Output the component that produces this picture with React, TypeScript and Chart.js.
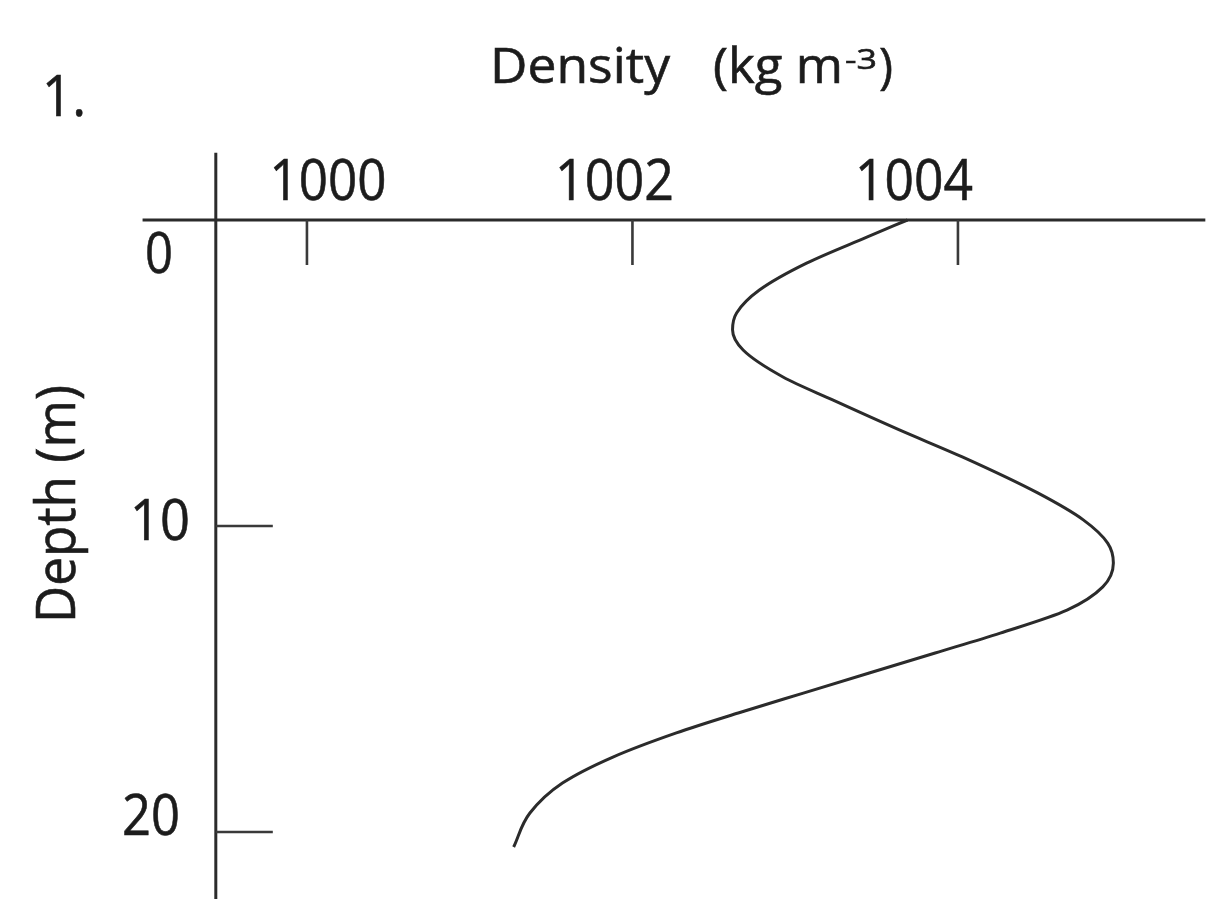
import React, { useEffect, useRef } from "react";
import { Chart, registerables } from "chart.js";

Chart.register(...registerables);

// ---- data ----
const DENSITY = [
  1003.69, 1003.44, 1003.07, 1002.78, 1002.64, 1002.615, 1002.68, 1002.925, 1003.23,
  1003.64, 1004.03, 1004.49, 1004.77, 1004.92, 1004.955, 1004.89, 1004.67, 1004.26,
  1003.86, 1003.05, 1002.65, 1002.27, 1001.88, 1001.57, 1001.37, 1001.27,
];
const DEPTH = [
  0, 0.56, 1.41, 2.29, 3.04, 3.59, 4.25, 5.13, 5.88,
  6.86, 7.75, 8.92, 9.8, 10.56, 11.21, 11.99, 12.75, 13.5,
  14.15, 15.46, 16.11, 16.76, 17.55, 18.4, 19.38, 20.49,
];
const DENSITY_TICKS = [1000, 1002, 1004];
const DEPTH_TICKS = [0, 10, 20];
const X_TITLE = "Density";
const X_UNIT = "(kg m";
const X_UNIT_SUP = "-3";
const X_UNIT_END = ")";
const Y_TITLE = "Depth (m)";
const PANEL_LABEL = "1.";

// ---- style ----
const FONT = '"Open Sans", "DejaVu Sans", sans-serif';
const INK = "#1c1c1c";
const LINE = "#2b2b2b";

function drawFitted(
  ctx: CanvasRenderingContext2D,
  text: string,
  x: number,
  y: number,
  size: number,
  width: number,
  align: CanvasTextAlign
) {
  ctx.font = `${size}px ${FONT}`;
  const w = ctx.measureText(text).width;
  const s = width > 0 && w > 0 ? width / w : 1;
  ctx.save();
  ctx.translate(x, y);
  ctx.scale(s, 1);
  ctx.textAlign = align;
  ctx.textBaseline = "alphabetic";
  ctx.fillStyle = INK;
  ctx.strokeStyle = INK;
  ctx.lineWidth = 0.6;
  ctx.fillText(text, 0, 0);
  ctx.strokeText(text, 0, 0);
  ctx.restore();
}

// hand-drawn label offsets (px) relative to each tick
const X_LABEL_NUDGE = [21, -18, -44];
const X_LABEL_WIDTH = [117, 119, 118];
const Y_LABEL_NUDGE: [number, number, number][] = [
  // [right edge x, dy from tick to baseline, width]
  [173, 53, 28],
  [190, 14, 60],
  [180, 3, 58],
];

const axesPlugin = {
  id: "handAxes",
  beforeDatasetsDraw(chart: any) {
    const { ctx, scales, chartArea } = chart;
    const x = scales.x;
    const y = scales.y;
    const axisX = x.getPixelForValue(999.44);
    const axisY = y.getPixelForValue(0);
    ctx.save();
    ctx.strokeStyle = LINE;
    ctx.lineCap = "butt";
    ctx.lineWidth = 3;
    ctx.beginPath();
    ctx.moveTo(axisX, y.getPixelForValue(-2.2));
    ctx.lineTo(axisX, chartArea.bottom);
    ctx.moveTo(x.getPixelForValue(998.99), axisY);
    ctx.lineTo(x.getPixelForValue(1005.52), axisY);
    ctx.stroke();

    ctx.lineWidth = 2.6;
    ctx.strokeStyle = "#3a3a3a";
    ctx.beginPath();
    DENSITY_TICKS.forEach((v) => {
      const px = x.getPixelForValue(v);
      ctx.moveTo(px, axisY);
      ctx.lineTo(px, axisY + 45);
    });
    DEPTH_TICKS.forEach((v) => {
      if (v === 0) return;
      const py = y.getPixelForValue(v);
      ctx.moveTo(axisX, py);
      ctx.lineTo(axisX + 57, py);
    });
    ctx.stroke();
    ctx.restore();
  },
  afterDraw(chart: any) {
    const { ctx, scales } = chart;
    const x = scales.x;
    const y = scales.y;
    const axisY = y.getPixelForValue(0);

    DENSITY_TICKS.forEach((v, i) => {
      const px = x.getPixelForValue(v) + X_LABEL_NUDGE[i];
      drawFitted(ctx, String(v), px, axisY - 20, 56, X_LABEL_WIDTH[i], "center");
    });
    DEPTH_TICKS.forEach((v, i) => {
      const [rx, dy, w] = Y_LABEL_NUDGE[i];
      const py = y.getPixelForValue(v) + dy;
      drawFitted(ctx, String(v), rx, py, 56, w, "right");
    });

    // titles
    drawFitted(ctx, PANEL_LABEL, 42, 116, 56, 44, "left");
    drawFitted(ctx, X_TITLE, 490, 83, 50, 180, "left");
    drawFitted(ctx, X_UNIT, 713, 83, 50, 130, "left");
    drawFitted(ctx, X_UNIT_SUP, 845, 69, 28, 32, "left");
    drawFitted(ctx, X_UNIT_END, 879, 83, 50, 14, "left");

    ctx.save();
    ctx.translate(75, 504);
    ctx.rotate(-Math.PI / 2);
    drawFitted(ctx, Y_TITLE, 0, 0, 54, 238, "center");
    ctx.restore();
  },
};

export default function App() {
  const ref = useRef<HTMLCanvasElement | null>(null);

  useEffect(() => {
    if (!ref.current) return;
    const points = DENSITY.map((d, i) => ({ x: d, y: DEPTH[i] }));
    const chart = new Chart(ref.current, {
      type: "line",
      data: {
        datasets: [
          {
            data: points,
            borderColor: LINE,
            borderWidth: 3,
            pointRadius: 0,
            cubicInterpolationMode: "monotone",
            fill: false,
          },
        ],
      },
      options: {
        indexAxis: "y",
        animation: false,
        responsive: false,
        maintainAspectRatio: false,
        layout: { padding: 0 },
        plugins: { legend: { display: false }, tooltip: { enabled: false } },
        events: [],
        scales: {
          x: { type: "linear", display: false, min: 998.114, max: 1005.604 },
          y: { type: "linear", display: false, reverse: true, min: -7.19, max: 22.19 },
        },
      },
      plugins: [axesPlugin],
    });
    return () => chart.destroy();
  }, []);

  return (
    <div style={{ position: "absolute", left: 0, top: 0, width: 1219, height: 899, background: "#fff" }}>
      <canvas ref={ref} width={1219} height={899} style={{ display: "block" }} />
    </div>
  );
}
